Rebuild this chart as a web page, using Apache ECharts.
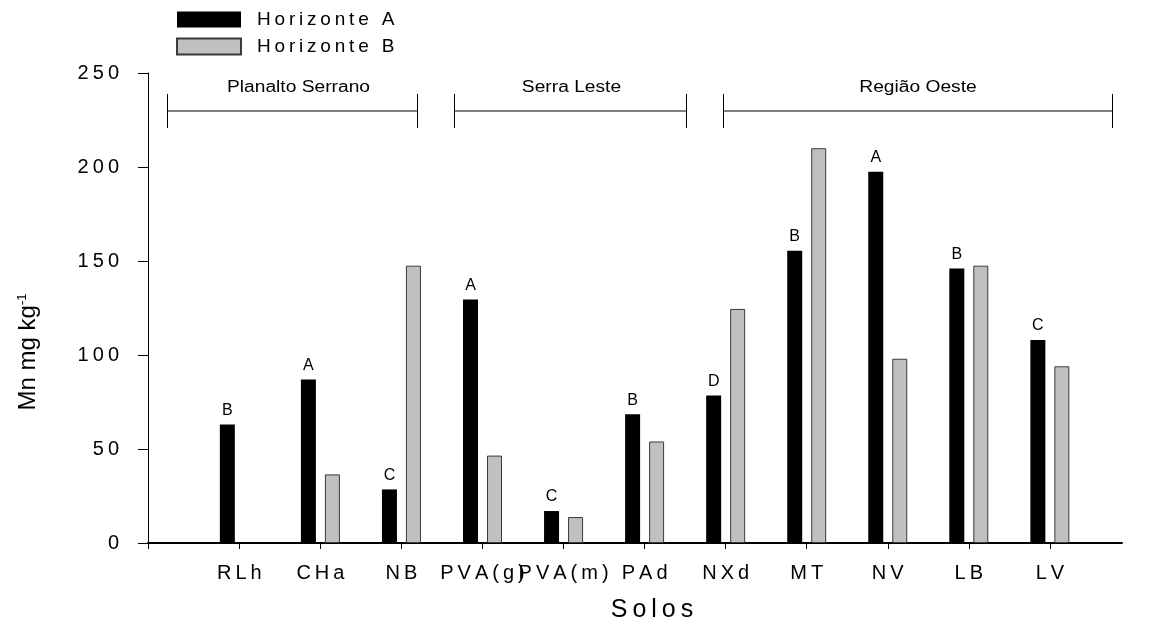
<!DOCTYPE html>
<html>
<head>
<meta charset="utf-8">
<script src="https://cdn.jsdelivr.net/npm/echarts@6/dist/echarts.min.js"></script>
<style>
  html, body { margin: 0; padding: 0; background: #fff; }
  #chart { width: 1159px; height: 637px; }
</style>
</head>
<body>
<div id="chart"></div>
<script>
// Soil classes on the x axis
const soils = ['RLh', 'CHa', 'NB', 'PVA(g)', 'PVA(m)', 'PAd', 'NXd', 'MT', 'NV', 'LB', 'LV'];
// Mn content (mg kg-1) per horizon
const horizonA = [63, 87, 28.5, 129.5, 17, 68.5, 78.5, 155.5, 197.5, 146, 108];
const horizonB = [null, 36.5, 147.5, 46.5, 13.8, 54, 124.5, 210, 98, 147.5, 94];
// Letters shown above the horizon A bars
const letters = ['B', 'A', 'C', 'A', 'C', 'B', 'D', 'B', 'A', 'B', 'C'];
const seriesNames = ['Horizonte A', 'Horizonte B'];
// Regions and the soils they group
const regions = [
  { name: 'Planalto Serrano', x0: 167.5, x1: 417.5, dx: 6 },
  { name: 'Serra Leste', x0: 454.5, x1: 686.5, dx: 1 },
  { name: 'Região Oeste', x0: 723.5, x1: 1112.5, dx: 0 }
];

// SigmaPlot-like wide letter spacing (thin spaces between letters)
const THIN = '\u2009';
function spaced(s) {
  return s.split(' ').map(w => Array.from(w).join(THIN)).join(THIN + ' ' + THIN);
}

const FONT = 'Liberation Sans, Arial, Helvetica, sans-serif';
const chart = echarts.init(document.getElementById('chart'), null, { renderer: 'canvas' });

const catIdx = soils.map((_, i) => i);

// region brackets
const bracketGraphics = [];
const bracketTop = 94, bracketBottom = 128, bracketMid = 111;
regions.forEach(r => {
  const ls = { stroke: '#000', lineWidth: 1 };
  bracketGraphics.push({ type: 'line', shape: { x1: r.x0, y1: bracketMid, x2: r.x1, y2: bracketMid }, style: ls });
  bracketGraphics.push({ type: 'line', shape: { x1: r.x0, y1: bracketTop, x2: r.x0, y2: bracketBottom }, style: ls });
  bracketGraphics.push({ type: 'line', shape: { x1: r.x1, y1: bracketTop, x2: r.x1, y2: bracketBottom }, style: ls });
  bracketGraphics.push({
    type: 'text', x: (r.x0 + r.x1) / 2 + r.dx, y: 88, scaleX: 1.2,
    style: {
      text: r.name, fill: '#000', font: '16px ' + FONT,
      textAlign: 'center', textVerticalAlign: 'middle'
    }
  });
});

const option = {
  animation: false,
  backgroundColor: '#fff',
  grid: { left: 148, right: 37, top: 73, bottom: 94, containLabel: false },
  legend: {
    orient: 'vertical', left: 176, top: 10, padding: 0,
    icon: 'rect',
    itemWidth: 64, itemHeight: 16, itemGap: 8,
    data: seriesNames,
    formatter: name => spaced(name),
    textStyle: { fontFamily: FONT, fontSize: 19, lineHeight: 16, color: '#000', padding: [0, 0, 0, 11] }
  },
  xAxis: {
    type: 'value',
    min: -1.127, max: 10.89,
    splitLine: { show: false },
    axisLine: { show: true, onZero: false, lineStyle: { color: '#000', width: 2 } },
    axisTick: { show: true, length: 6, customValues: [-1.127].concat(catIdx), lineStyle: { color: '#000', width: 1 } },
    axisLabel: {
      customValues: catIdx, margin: 20,
      formatter: v => spaced(soils[Math.round(v)]),
      fontFamily: FONT, fontSize: 20, color: '#000'
    }
  },
  yAxis: {
    type: 'value', min: 0, max: 250, interval: 50,
    splitLine: { show: false },
    axisLine: { show: true, onZero: false, lineStyle: { color: '#000', width: 1 } },
    axisTick: { show: true, length: 10, lineStyle: { color: '#000', width: 1 } },
    axisLabel: {
      margin: 29, fontFamily: FONT, fontSize: 20, color: '#000',
      formatter: v => spaced(String(v))
    }
  },
  series: [
    {
      name: seriesNames[0], type: 'bar',
      barWidth: 15, barGap: '60%',
      itemStyle: { color: '#000' },
      data: horizonA.map((v, i) => [i, v]),
      label: {
        show: true, position: 'top', distance: 6,
        formatter: p => letters[p.dataIndex],
        fontFamily: FONT, fontSize: 16, color: '#000'
      }
    },
    {
      name: seriesNames[1], type: 'bar',
      barWidth: 15, barGap: '60%',
      itemStyle: { color: '#c0c0c0', borderColor: '#3a3a3a', borderWidth: 1 },
      data: horizonB.map((v, i) => [i, v])
    }
  ],
  graphic: bracketGraphics.concat([
    {
      type: 'text', x: 652, y: 610,
      style: {
        text: spaced('Solos'), fill: '#000', font: '25px ' + FONT,
        textAlign: 'center', textVerticalAlign: 'middle'
      }
    },
    {
      type: 'text', x: 28, y: 352, rotation: Math.PI / 2,
      style: {
        text: 'Mn mg kg{sup|-1}', fill: '#000', font: '24px ' + FONT,
        textAlign: 'center', textVerticalAlign: 'middle',
        rich: { sup: { fontSize: 13, fontFamily: FONT, verticalAlign: 'top', padding: [0, 0, 12, 0] } }
      }
    }
  ])
};

chart.setOption(option);
</script>
</body>
</html>
